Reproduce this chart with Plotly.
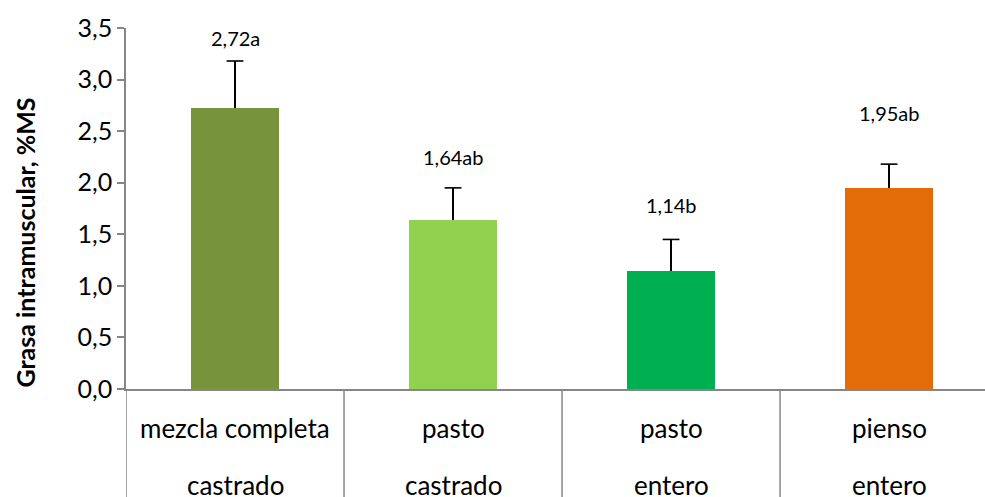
import plotly.graph_objects as go

line1 = ["mezcla completa", "pasto", "pasto", "pienso"]
line2 = ["castrado", "castrado", "entero", "entero"]
values = [2.72, 1.64, 1.14, 1.95]
errors = [0.46, 0.31, 0.31, 0.23]
labels = ["2,72a", "1,64ab", "1,14b", "1,95ab"]
label_y = [3.40, 2.25, 1.78, 2.68]
colors = ["#77933C", "#92D050", "#00B050", "#E36C09"]
yticks = [0, 0.5, 1.0, 1.5, 2.0, 2.5, 3.0, 3.5]
ytick_text = ["0,0", "0,5", "1,0", "1,5", "2,0", "2,5", "3,0", "3,5"]

FONT = "Lato"
AX = "#868686"
x = list(range(len(values)))

fig = go.Figure()
fig.add_trace(go.Bar(
    x=x, y=values, width=0.40, marker=dict(color=colors, line=dict(width=0)),
    error_y=dict(type="data", symmetric=False, array=errors,
                 arrayminus=[0] * len(errors), color="black", thickness=1.6, width=0),
    showlegend=False, hoverinfo="skip",
))
# caps only on top of the error bars
fig.add_trace(go.Scatter(
    x=x, y=[v + e for v, e in zip(values, errors)], mode="markers",
    marker=dict(symbol="line-ew-open", size=12, color="black",
                line=dict(color="black", width=1.6)),
    showlegend=False, hoverinfo="skip",
))

for xi, t, yy in zip(x, labels, label_y):
    fig.add_annotation(x=xi, y=yy, xref="x", yref="y", text=t, showarrow=False,
                       font=dict(family=FONT, size=20, color="black"))

for xi, a, b in zip(x, line1, line2):
    fig.add_annotation(x=xi, y=-0.108, xref="x", yref="paper", text=a, showarrow=False,
                       yanchor="middle", font=dict(family=FONT, size=26, color="black"))
    fig.add_annotation(x=xi, y=-0.266, xref="x", yref="paper", text=b, showarrow=False,
                       yanchor="middle", font=dict(family=FONT, size=26, color="black"))

for bnd in [-0.5, 0.5, 1.5, 2.5]:
    fig.add_shape(type="line", x0=bnd, x1=bnd, xref="x", y0=0, y1=-0.31, yref="paper",
                  line=dict(color=AX, width=1.5))

fig.add_annotation(x=-0.117, y=0.407, xref="paper", yref="paper",
                   xanchor="center", yanchor="middle",
                   text="<b>Grasa intramuscular, %MS</b>",
                   textangle=-90, showarrow=False, font=dict(family=FONT, size=25, color="black"))

fig.update_layout(
    width=985, height=497,
    margin=dict(l=126, r=0, t=28, b=108),
    plot_bgcolor="white", paper_bgcolor="white",
    bargap=0,
    xaxis=dict(range=[-0.5, 3.44], showticklabels=False, showgrid=False, zeroline=False,
               showline=True, linecolor=AX, linewidth=1.5, ticks="", automargin=False),
    yaxis=dict(range=[0, 3.5], tickvals=yticks, ticktext=ytick_text, showgrid=False,
               zeroline=False, showline=True, linecolor=AX, linewidth=1.5,
               ticks="outside", ticklen=7, tickcolor=AX, tickwidth=1.5, automargin=False,
               tickfont=dict(family=FONT, size=25, color="black")),
    font=dict(family=FONT),
)

fig.write_html("out.html", config={"displayModeBar": False},
               post_script="document.body.style.margin='0';document.body.style.overflow='hidden';")
